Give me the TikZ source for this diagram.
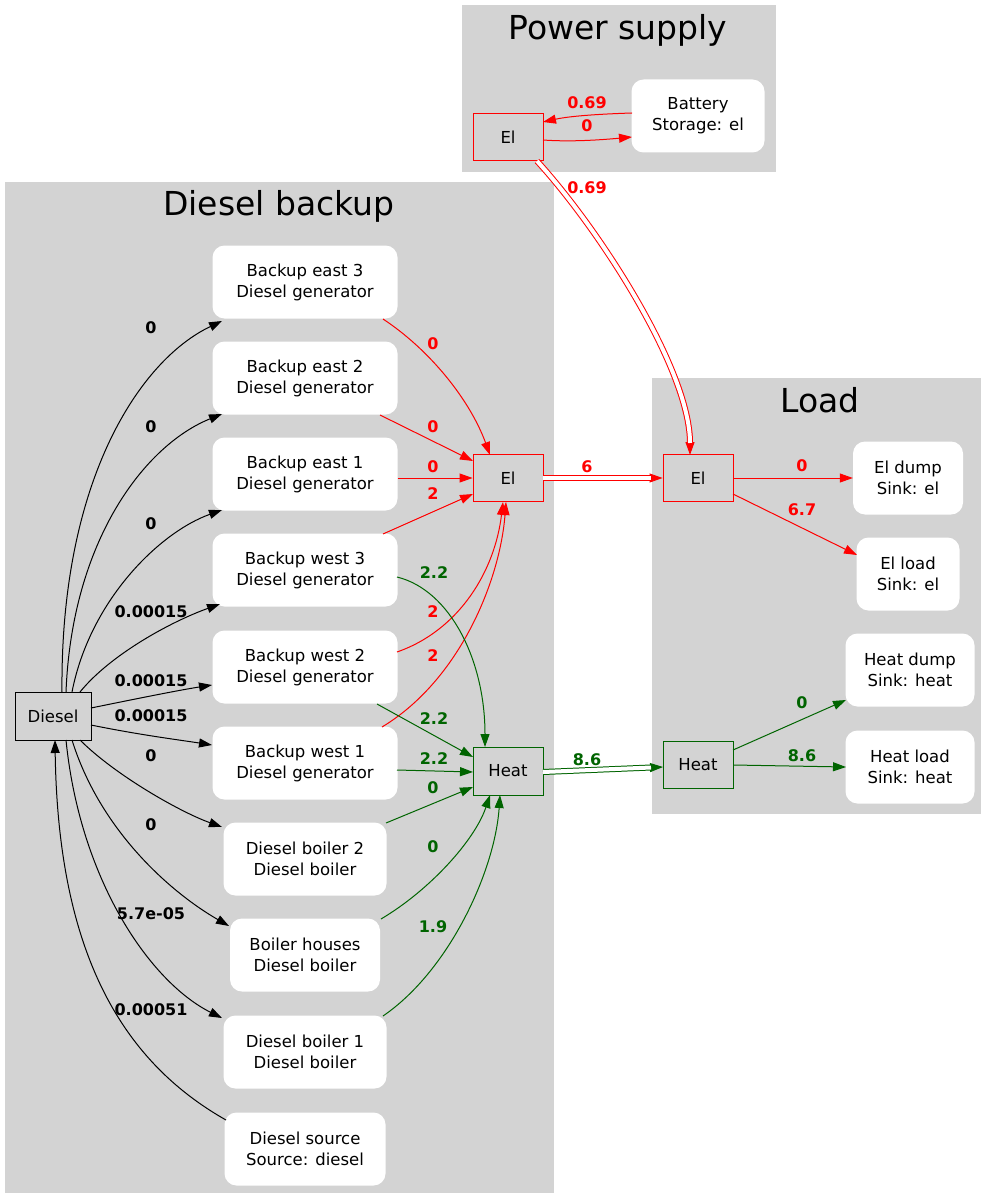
\documentclass[tikz,border=0pt]{standalone}
\usepackage{fontspec}
\setmainfont{DejaVu Sans}
\usetikzlibrary{arrows.meta,calc}
\definecolor{clgray}{HTML}{D3D3D3}
\definecolor{dgreen}{HTML}{006400}
\begin{document}
\begin{tikzpicture}[x=1pt,y=-1pt,
  wbox/.style={fill=white, rounded corners=12pt, minimum height=73pt, inner sep=0pt, align=center, font=\fontsize{16.5}{21}\selectfont},
  rbox/.style={draw=#1, line width=0.9pt, minimum width=70pt, minimum height=47pt, inner sep=0pt, font=\fontsize{16.5}{21}\selectfont},
  ctitle/.style={font=\fontsize{33}{36}\selectfont, inner sep=0pt},
  lbl/.style={font=\bfseries\fontsize{16}{18}\selectfont, text=#1, inner sep=0pt},
  edge/.style={draw=#1, line width=1pt, -{Triangle[length=13pt,width=9pt]}},
  dbl/.style={draw=#1, line width=1pt, -{Triangle[length=13pt,width=9pt]},
    postaction={draw=#1, line width=6pt, shorten >=12pt, -},
    postaction={draw=white, line width=4pt, shorten >=12pt, -}},
]
\useasboundingbox (0,0) rectangle (981,1193);
% clusters
\fill[clgray] (462,5) rectangle (776,172);
\fill[clgray] (5,182) rectangle (554,1193);
\fill[clgray] (652,378) rectangle (981,814);
\node[ctitle] (tPS) at (618,30) {Power supply};
\node[ctitle] (tDB) at (279,206) {Diesel backup};
\node[ctitle] (tL) at (820,400) {Load};

% nodes
\node[rbox=black, minimum width=76pt, minimum height=48pt] (diesel) at (53,716) {Diesel};
\node[wbox, minimum width=133pt] (battery) at (698,116) {Battery\\Storage: el};
\node[rbox=red] (elP) at (508,137) {El};
\node[wbox, minimum width=185pt] (e3) at (305,282) {Backup east 3\\Diesel generator};
\node[wbox, minimum width=185pt] (e2) at (305,378) {Backup east 2\\Diesel generator};
\node[wbox, minimum width=185pt] (e1) at (305,474) {Backup east 1\\Diesel generator};
\node[wbox, minimum width=185pt] (w3) at (305,570) {Backup west 3\\Diesel generator};
\node[wbox, minimum width=185pt] (w2) at (305,667) {Backup west 2\\Diesel generator};
\node[wbox, minimum width=185pt] (w1) at (305,763) {Backup west 1\\Diesel generator};
\node[wbox, minimum width=163pt] (b2) at (305,859) {Diesel boiler 2\\Diesel boiler};
\node[wbox, minimum width=150pt] (bh) at (305,955) {Boiler houses\\Diesel boiler};
\node[wbox, minimum width=163pt] (b1) at (305,1052) {Diesel boiler 1\\Diesel boiler};
\node[wbox, minimum width=161pt] (src) at (305,1149) {Diesel source\\Source: diesel};
\node[rbox=red] (elB) at (508,478) {El};
\node[rbox=dgreen, minimum height=48pt] (heatB) at (508,771) {Heat};
\node[rbox=red] (elL) at (698,478) {El};
\node[rbox=dgreen] (heatL) at (698,765) {Heat};
\node[wbox, minimum width=110pt] (dump) at (908,478) {El dump\\Sink: el};
\node[wbox, minimum width=103pt] (elload) at (908,574) {El load\\Sink: el};
\node[wbox, minimum width=129pt] (heatdump) at (910,670) {Heat dump\\Sink: heat};
\node[wbox, minimum width=129pt] (heatload) at (910,767) {Heat load\\Sink: heat};

% black edges from Diesel
\draw[edge=black] ($(diesel)+(9,-24)$) .. controls (60,480) and (140,360) .. ($(e3)+(-83,39)$);
\draw[edge=black] ($(diesel)+(13,-24)$) .. controls (72,540) and (145,445) .. ($(e2)+(-83,36)$);
\draw[edge=black] ($(diesel)+(19,-24)$) .. controls (90,600) and (160,532) .. ($(e1)+(-83,36)$);
\draw[edge=black] ($(diesel)+(27,-24)$) .. controls (110,655) and (170,622) .. ($(w3)+(-85,34)$);
\draw[edge=black] ($(diesel)+(38,-8)$) .. controls (140,698) and (180,690) .. ($(w2)+(-93,18)$);
\draw[edge=black] ($(diesel)+(38,9)$) .. controls (140,735) and (180,740) .. ($(w1)+(-93,-18)$);
\draw[edge=black] ($(diesel)+(27,24)$) .. controls (115,775) and (180,812) .. ($(b2)+(-83,-32)$);
\draw[edge=black] ($(diesel)+(19,24)$) .. controls (100,830) and (170,892) .. ($(bh)+(-76,-29)$);
\draw[edge=black] ($(diesel)+(13,24)$) .. controls (80,880) and (150,982) .. ($(b1)+(-83,-34)$);
\draw[edge=black] ($(src)+(-79,-29)$) .. controls (120,1060) and (58,950) .. ($(diesel)+(2,24)$);
\node[lbl=black] (l1) at (151,328) {0};
\node[lbl=black] (l2) at (151,427) {0};
\node[lbl=black] (l3) at (151,524) {0};
\node[lbl=black] (l4) at (151,612) {0.00015};
\node[lbl=black] (l5) at (151,681) {0.00015};
\node[lbl=black] (l6) at (151,716) {0.00015};
\node[lbl=black] (l7) at (151,756) {0};
\node[lbl=black] (l8) at (151,825) {0};
\node[lbl=black] (l9) at (151,914) {5.7e-05};
\node[lbl=black] (l10) at (151,1010) {0.00051};

% red edges to El (backup)
\draw[edge=red] ($(e3)+(78,37)$) .. controls (430,350) and (470,400) .. ($(elB)+(-18,-23)$);
\draw[edge=red] ($(e2)+(75,37)$) -- ($(elB)+(-35,-17)$);
\draw[edge=red] ($(e1.east)+(0,4)$) -- (elB.west);
\draw[edge=red] ($(w3)+(78,-36)$) -- ($(elB)+(-35,16)$);
\draw[edge=red] ($(w2)+(92,-15)$) .. controls (460,630) and (495,570) .. ($(elB)+(-5,24)$);
\draw[edge=red] ($(w1)+(77,-36)$) .. controls (460,680) and (500,580) .. ($(elB)+(-2,24)$);
\node[lbl=red] (r1) at (433,344) {0};
\node[lbl=red] (r2) at (433,427) {0};
\node[lbl=red] (r3) at (433,467) {0};
\node[lbl=red] (r4) at (433,494) {2};
\node[lbl=red] (r5) at (433,612) {2};
\node[lbl=red] (r6) at (433,656) {2};

% green edges to Heat (backup)
\draw[edge=dgreen] ($(w3)+(92,7)$) .. controls (450,590) and (485,660) .. ($(heatB)+(-23,-24)$);
\draw[edge=dgreen] ($(w2)+(72,37)$) -- ($(heatB)+(-35,-14)$);
\draw[edge=dgreen] ($(w1)+(92,7)$) -- ($(heatB)+(-35,1)$);
\draw[edge=dgreen] ($(b2)+(81,-36)$) -- ($(heatB)+(-35,16)$);
\draw[edge=dgreen] ($(bh)+(76,-36)$) .. controls (430,890) and (475,840) .. ($(heatB)+(-18,24)$);
\draw[edge=dgreen] ($(b1)+(78,-36)$) .. controls (450,970) and (495,870) .. ($(heatB)+(-8,24)$);
\node[lbl=dgreen] (g1) at (434,573) {2.2};
\node[lbl=dgreen] (g2) at (434,719) {2.2};
\node[lbl=dgreen] (g3) at (434,759) {2.2};
\node[lbl=dgreen] (g4) at (433,788) {0};
\node[lbl=dgreen] (g5) at (433,847) {0};
\node[lbl=dgreen] (g6) at (433,927) {1.9};

% power supply
\draw[edge=red] ($(battery)+(-66,-3)$) .. controls (600,114) and (570,116) .. ($(elP)+(35,-15)$);
\draw[edge=red] ($(elP)+(35,3)$) .. controls (570,142) and (600,140) .. ($(battery)+(-66,21)$);
\node[lbl=red] (p1) at (587,103) {0.69};
\node[lbl=red] (p2) at (587,126) {0};

% double edges
\draw[dbl=red] ($(elP)+(29,24)$) .. controls (600,230) and (690,370) .. ($(elL)+(-8,-23)$);
\draw[dbl=red] (elB.east) -- (elL.west);
\draw[dbl=dgreen] ($(heatB)+(35,1)$) -- ($(heatL)+(-35,2)$);
\node[lbl=red] (d1) at (587,188) {0.69};
\node[lbl=red] (d2) at (587,467) {6};
\node[lbl=dgreen] (d3) at (587,760) {8.6};

% load
\draw[edge=red] (elL.east) -- (dump.west);
\draw[edge=red] ($(elL)+(35,16)$) -- ($(elload)+(-51,-19)$);
\draw[edge=dgreen] ($(heatL)+(35,-15)$) -- ($(heatdump)+(-64,30)$);
\draw[edge=dgreen] (heatL.east) -- ($(heatload)+(-64,0)$);
\node[lbl=red] (o1) at (802,466) {0};
\node[lbl=red] (o2) at (802,510) {6.7};
\node[lbl=dgreen] (o3) at (802,703) {0};
\node[lbl=dgreen] (o4) at (802,756) {8.6};
\end{tikzpicture}
\end{document}
